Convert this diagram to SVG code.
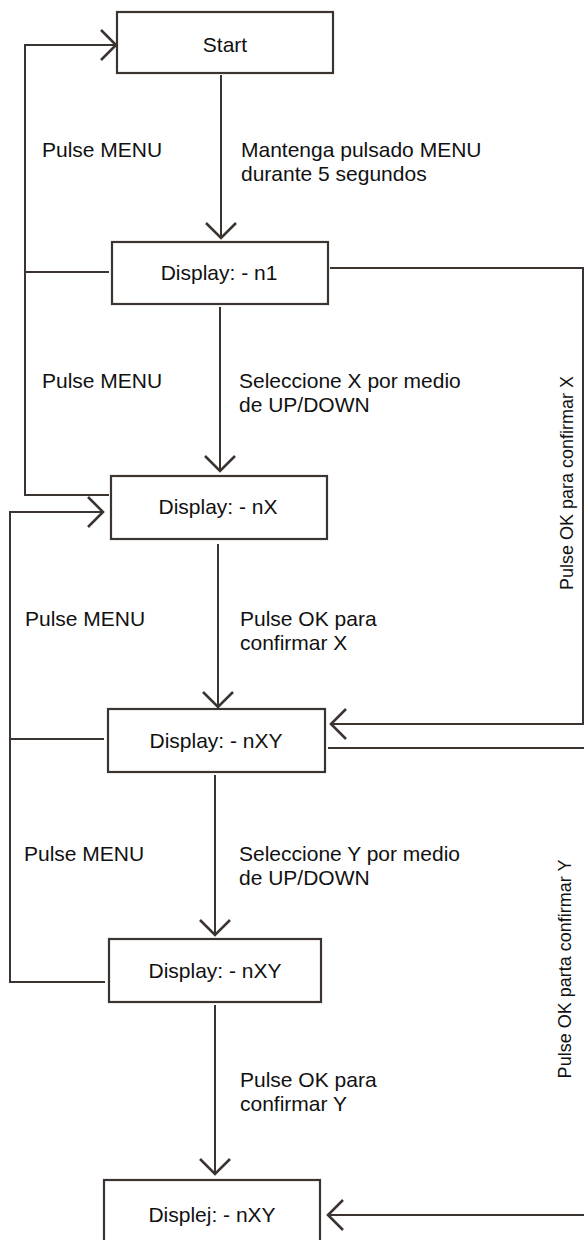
<svg xmlns="http://www.w3.org/2000/svg" width="584" height="1240" viewBox="0 0 584 1240">
<style>
.box{fill:#fff;stroke:#3b3431;stroke-width:2.2}
.con{fill:none;stroke:#3b3431;stroke-width:2}
.t{font-family:"Liberation Sans",Arial,sans-serif;font-size:21px;fill:#111}
.c{text-anchor:middle}
.r{font-family:"Liberation Sans",Arial,sans-serif;font-size:18px;fill:#111;text-anchor:middle}
</style>
<defs>
<marker id="ah" markerUnits="userSpaceOnUse" viewBox="-18 -17 20 34" refX="0" refY="0" markerWidth="20" markerHeight="34" orient="auto" overflow="visible">
<path d="M-15,-15 L0,0 L-15,15" fill="none" stroke="#3b3431" stroke-width="2.6"/>
</marker>
</defs>
<rect width="584" height="1240" fill="#fff"/>
<g id="connectors">
<path class="con" d="M221,75 V238" marker-end="url(#ah)"/>
<path class="con" d="M220,307 V471" marker-end="url(#ah)"/>
<path class="con" d="M218,544 V707" marker-end="url(#ah)"/>
<path class="con" d="M215,775 V935" marker-end="url(#ah)"/>
<path class="con" d="M215,1005 V1174" marker-end="url(#ah)"/>
<path class="con" d="M109,495 H25 V45 H116" marker-end="url(#ah)"/>
<path class="con" d="M109,272 H25"/>
<path class="con" d="M105,982 H10 V512 H103" marker-end="url(#ah)"/>
<path class="con" d="M104,739 H10"/>
<path class="con" d="M330,268 H583 V724 H331" marker-end="url(#ah)"/>
<path class="con" d="M328,748 H600 V1215 H328" marker-end="url(#ah)"/>
</g>
<g id="start"><rect class="box" x="117" y="12" width="216" height="61"/><text class="t c" x="225" y="52">Start</text></g>
<g id="n1"><rect class="box" x="112" y="242" width="216" height="62"/><text class="t c" x="219" y="280">Display: - n1</text></g>
<g id="nX"><rect class="box" x="111" y="476" width="216" height="63"/><text class="t c" x="218" y="514">Display: - nX</text></g>
<g id="nXY1"><rect class="box" x="108" y="709" width="217" height="63"/><text class="t c" x="216" y="748">Display: - nXY</text></g>
<g id="nXY2"><rect class="box" x="109" y="939" width="212" height="63"/><text class="t c" x="215" y="978">Display: - nXY</text></g>
<g id="displej"><rect class="box" x="104" y="1180" width="216" height="70"/><text class="t c" x="212" y="1222">Displej: - nXY</text></g>
<g id="labels">
<text class="t" x="42" y="157">Pulse MENU</text>
<text class="t" x="241" y="157">Mantenga pulsado MENU</text>
<text class="t" x="241" y="181">durante 5 segundos</text>
<text class="t" x="42" y="388">Pulse MENU</text>
<text class="t" x="239" y="388">Seleccione X por medio</text>
<text class="t" x="239" y="412">de UP/DOWN</text>
<text class="t" x="25" y="626">Pulse MENU</text>
<text class="t" x="240" y="626">Pulse OK para</text>
<text class="t" x="240" y="650">confirmar X</text>
<text class="t" x="24" y="861">Pulse MENU</text>
<text class="t" x="239" y="861">Seleccione Y por medio</text>
<text class="t" x="239" y="885">de UP/DOWN</text>
<text class="t" x="240" y="1087">Pulse OK para</text>
<text class="t" x="240" y="1111">confirmar Y</text>
<text class="r" transform="translate(573,483) rotate(-90)">Pulse OK para confirmar X</text>
<text class="r" transform="translate(571,969) rotate(-90)">Pulse OK parta confirmar Y</text>
</g>
</svg>
